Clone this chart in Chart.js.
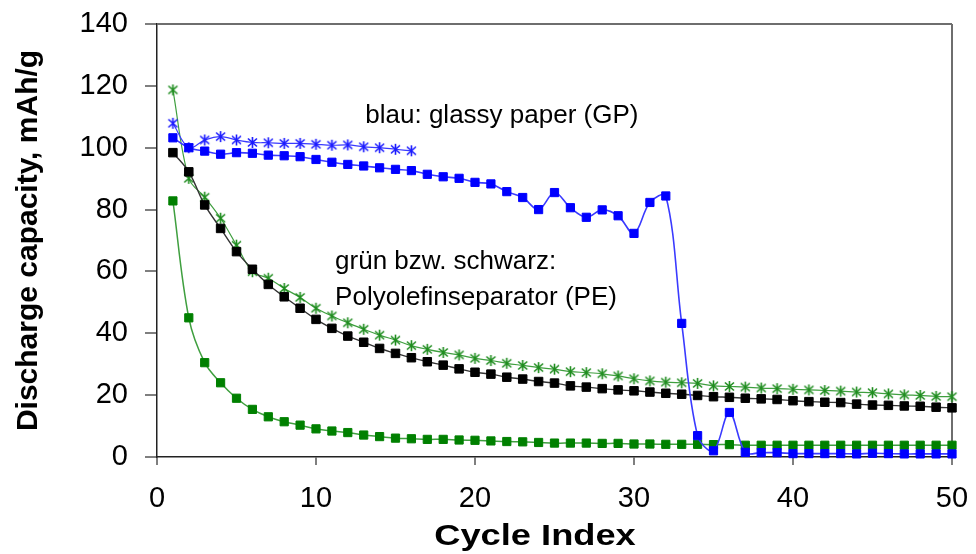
<!DOCTYPE html>
<html>
<head>
<meta charset="utf-8">
<script src="https://cdn.jsdelivr.net/npm/chart.js@4.4.1/dist/chart.umd.min.js"></script>
<style>
  html, body { margin: 0; padding: 0; background: #ffffff; }
  #wrap { width: 976px; height: 554px; }
</style>
</head>
<body>
<div id="wrap"><canvas id="c" width="976" height="554"></canvas></div>
<script>
// Cycle numbers
const cycles = [1,2,3,4,5,6,7,8,9,10,11,12,13,14,15,16,17,18,19,20,21,22,23,24,25,
                26,27,28,29,30,31,32,33,34,35,36,37,38,39,40,41,42,43,44,45,46,47,48,49,50];

// Glassy paper separator (blue), squares: cycles 1-50
const gpSquares = [103.2,100.0,98.9,97.9,98.4,98.2,97.6,97.4,97.1,96.2,
                   95.3,94.6,94.1,93.5,93.0,92.6,91.4,90.6,90.1,88.8,
                   88.3,85.8,83.9,80.0,85.5,80.6,77.5,79.9,78.0,72.3,
                   82.3,84.4,43.2,6.9,2.0,14.4,1.5,1.4,1.4,1.1,
                   1.1,1.1,1.1,1.0,1.2,1.1,1.0,1.0,1.0,1.0];

// Glassy paper separator (blue), stars: cycles 1-16
const gpStars = [107.9,100.0,102.5,103.6,102.5,101.7,101.6,101.4,101.4,101.1,
                 100.8,100.9,100.3,100.0,99.5,99.0];

// Polyolefin separator (PE), black squares
const peBlack = [98.4,92.2,81.5,73.9,66.4,60.7,55.8,51.8,48.1,44.5,
                 41.6,39.1,37.1,35.1,33.5,32.1,30.8,29.7,28.5,27.4,
                 26.8,25.8,25.2,24.4,23.9,23.0,22.6,22.1,21.7,21.4,
                 21.0,20.6,20.3,19.9,19.5,19.3,19.0,18.8,18.6,18.2,
                 17.9,17.7,17.6,17.1,16.8,16.7,16.5,16.4,16.1,15.9];

// Polyolefin separator (PE), green stars
const peGreenStars = [118.7,90.1,84.0,77.2,68.5,59.9,57.8,54.5,51.6,48.1,
                      45.6,43.4,41.3,39.4,37.8,36.0,34.8,33.8,33.0,31.9,
                      31.2,30.3,29.6,28.9,28.4,27.6,27.3,26.9,26.2,25.3,
                      24.6,24.2,24.0,23.8,23.0,22.8,22.6,22.3,22.1,21.9,
                      21.7,21.5,21.3,21.0,20.8,20.4,20.1,19.9,19.6,19.5];

// Polyolefin separator (PE), green squares
const peGreenSquares = [82.8,45.0,30.5,24.0,19.0,15.4,13.0,11.4,10.3,9.1,
                        8.4,7.9,7.1,6.6,6.1,5.9,5.7,5.7,5.5,5.4,
                        5.2,5.0,4.9,4.7,4.5,4.5,4.5,4.4,4.4,4.2,
                        4.2,4.1,4.1,4.1,4.0,4.0,3.8,3.8,3.8,3.8,
                        3.8,3.8,3.8,3.8,3.8,3.8,3.8,3.8,3.8,3.8];

// Axis ticks
const xTicks = [0, 10, 20, 30, 40, 50];
const yTicks = [0, 20, 40, 60, 80, 100, 120, 140];

// Annotation texts (x in cycles, y in mAh/g)
const notes = [
  { text: 'blau: glassy paper (GP)', x: 13.1, y: 110.2 },
  { text: 'grün bzw. schwarz:', x: 11.2, y: 63.0 },
  { text: 'Polyolefinseparator (PE)', x: 11.2, y: 51.4 }
];
const xTitle = 'Cycle Index';
const yTitle = 'Discharge capacity, mAh/g';

function pairs(values) {
  return values.map((v, i) => ({ x: cycles[i], y: v }));
}

// Asterisk marker: an X crossed by a vertical stroke
function starMarker(color) {
  const s = 13;
  const c = document.createElement('canvas');
  c.width = s; c.height = s;
  const g = c.getContext('2d');
  g.strokeStyle = color;
  g.lineWidth = 1.6;
  g.beginPath();
  g.moveTo(2, 2.5); g.lineTo(11, 10.5);
  g.moveTo(11, 2.5); g.lineTo(2, 10.5);
  g.moveTo(6.5, 1); g.lineTo(6.5, 12);
  g.stroke();
  return c;
}

const annotate = {
  id: 'annotate',
  afterDraw(chart) {
    const { ctx, scales } = chart;
    ctx.save();
    ctx.fillStyle = '#000';
    ctx.font = '26px "Liberation Sans", Arial, sans-serif';
    ctx.textAlign = 'left';
    ctx.textBaseline = 'middle';
    notes.forEach(n => {
      ctx.fillText(n.text, scales.x.getPixelForValue(n.x), scales.y.getPixelForValue(n.y));
    });
    // x-axis title
    ctx.font = 'bold 29px "Liberation Sans", Arial, sans-serif';
    ctx.textAlign = 'center';
    ctx.translate(535, 537);
    ctx.scale(1.25, 1);
    ctx.fillText(xTitle, 0, 0);
    ctx.restore();
  }
};

const frameColor = '#6e6e6e';

new Chart(document.getElementById('c'), {
  type: 'line',
  data: {
    datasets: [
      {
        data: pairs(gpSquares),
        borderColor: '#3a3aff', borderWidth: 1.6,
        pointStyle: 'rect', pointRadius: 5.8, pointBorderWidth: 1,
        pointBackgroundColor: '#0000ff', pointBorderColor: '#0000ff',
        tension: 0.35, clip: false
      },
      {
        data: pairs(gpStars),
        borderColor: '#3a3aff', borderWidth: 1.2,
        pointStyle: starMarker('#1a1aff'), pointRadius: 6,
        tension: 0.35, clip: false
      },
      {
        data: pairs(peBlack),
        borderColor: '#333333', borderWidth: 1.4,
        pointStyle: 'rect', pointRadius: 6, pointBorderWidth: 1,
        pointBackgroundColor: '#000000', pointBorderColor: '#000000',
        tension: 0.35, clip: false
      },
      {
        data: pairs(peGreenStars),
        borderColor: '#3f9f3f', borderWidth: 1.2,
        pointStyle: starMarker('#1e8c1e'), pointRadius: 6,
        tension: 0.35, clip: false
      },
      {
        data: pairs(peGreenSquares),
        borderColor: '#3f9f3f', borderWidth: 1.5,
        pointStyle: 'rect', pointRadius: 5.8, pointBorderWidth: 1,
        pointBackgroundColor: '#008000', pointBorderColor: '#008000',
        tension: 0.35, clip: false
      }
    ]
  },
  options: {
    responsive: false,
    animation: false,
    events: [],
    layout: { padding: { left: 0, top: 24, right: 24, bottom: 0 } },
    plugins: { legend: { display: false }, tooltip: { enabled: false } },
    scales: {
      x: {
        type: 'linear', min: 0, max: 50,
        afterBuildTicks(scale) { scale.ticks = xTicks.map(v => ({ value: v })); },
        afterFit(scale) {
          scale.height = 97;
          scale.paddingLeft = 0; scale.paddingRight = 0;
        },
        ticks: {
          color: '#000',
          font: { family: '"Liberation Sans", Arial, sans-serif', size: 29 },
          padding: 17, maxRotation: 0, autoSkip: false
        },
        grid: {
          drawOnChartArea: true,
          color: ctx => (ctx.tick && ctx.tick.value === 50) ? frameColor : 'rgba(0,0,0,0)',
          lineWidth: 2,
          tickColor: '#555', tickLength: 8, tickWidth: 1.5
        },
        border: { display: true, color: '#222', width: 1.5 }
      },
      y: {
        type: 'linear', min: 0, max: 140,
        afterBuildTicks(scale) { scale.ticks = yTicks.map(v => ({ value: v })); },
        afterFit(scale) {
          scale.width = 157;
          scale.paddingTop = 0; scale.paddingBottom = 0;
        },
        ticks: {
          color: '#000',
          font: { family: '"Liberation Sans", Arial, sans-serif', size: 29 },
          padding: 17
        },
        grid: {
          drawOnChartArea: true,
          color: ctx => (ctx.tick && ctx.tick.value === 140) ? frameColor : 'rgba(0,0,0,0)',
          lineWidth: 2,
          tickColor: '#555', tickLength: 12, tickWidth: 1.5
        },
        border: { display: true, color: '#222', width: 1.5 },
        title: {
          display: true, text: yTitle, color: '#000',
          font: { family: '"Liberation Sans", Arial, sans-serif', size: 30, weight: 'bold' },
          padding: { top: 11, bottom: 0 }
        }
      }
    }
  },
  plugins: [annotate]
});
</script>
</body>
</html>
